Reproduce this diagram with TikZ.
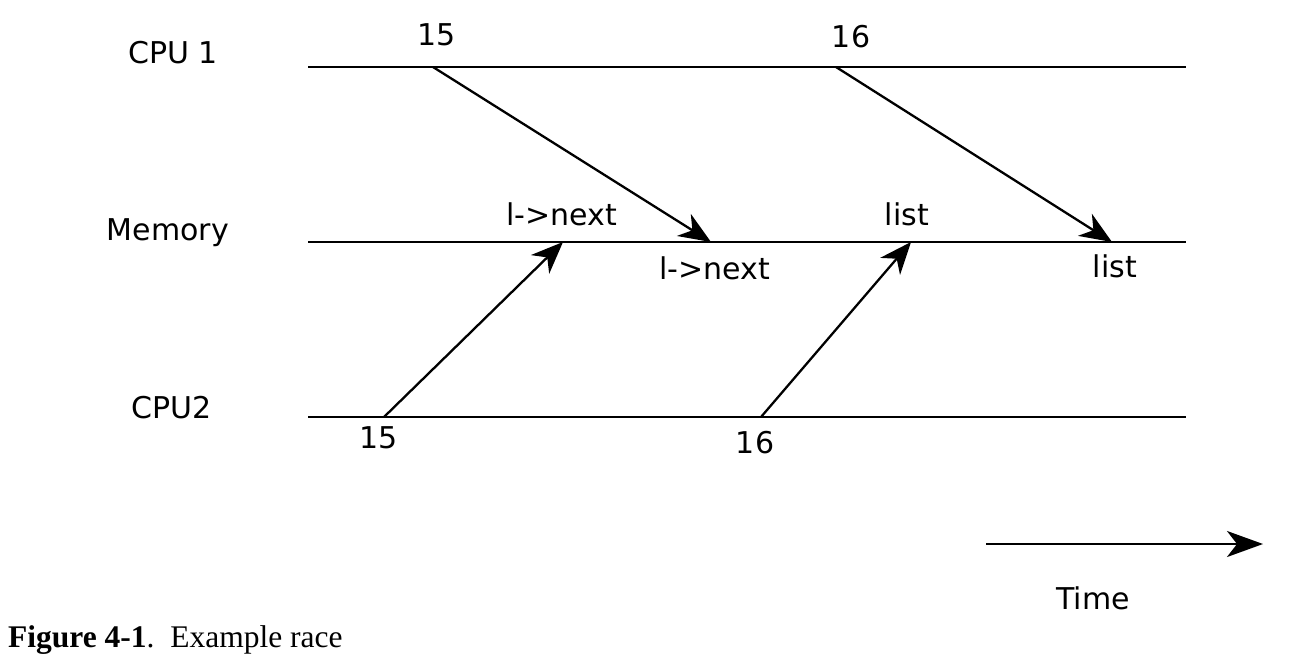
\documentclass[tikz,border=0pt]{standalone}
\usepackage{fontspec}
\setmainfont{Liberation Serif}
\newfontfamily\lblfont{DejaVu Sans}
\usetikzlibrary{arrows.meta}
\begin{document}
\begin{tikzpicture}[x=1pt,y=-1pt,
  lbl/.style={font=\lblfont\fontsize{30}{34}\selectfont, inner sep=0pt},
  tline/.style={line width=2.5pt},
  msg/.style={line width=2.3pt, -{Stealth[length=32pt,width=26pt,inset=10pt]}}]
\useasboundingbox (0,0) rectangle (1292,665);
% labels
\node[lbl] (c1) at (173,53) {CPU 1};
\node[lbl] (mem) at (168,233) {Memory};
\node[lbl] (c2) at (172,408) {CPU2};
% timelines
\coordinate (c1s) at (308,67); \coordinate (c1e) at (1186,67);
\coordinate (ms) at (308,242); \coordinate (me) at (1186,242);
\coordinate (c2s) at (308,417); \coordinate (c2e) at (1186,417);
\draw[tline] (c1s) -- (c1e);
\draw[tline] (ms) -- (me);
\draw[tline] (c2s) -- (c2e);
% event points
\coordinate (a1) at (433,67); \coordinate (b1) at (711,242);
\coordinate (a2) at (836,67); \coordinate (b2) at (1112,242);
\coordinate (a3) at (384,417); \coordinate (b3) at (563,242);
\coordinate (a4) at (761,417); \coordinate (b4) at (911,242);
\draw[msg] (a1) -- (b1);
\draw[msg] (a2) -- (b2);
\draw[msg] (a3) -- (b3);
\draw[msg] (a4) -- (b4);
% numbers
\node[lbl] (n1) at (437,35) {15};
\node[lbl] (n2) at (851,37) {16};
\node[lbl] (n3) at (379,438) {15};
\node[lbl] (n4) at (755,443) {16};
% memory labels
\node[lbl] (m1) at (562,214) {l->next};
\node[lbl] (m2) at (715,268) {l->next};
\node[lbl] (m3) at (907,214) {list};
\node[lbl] (m4) at (1115,266) {list};
% time arrow
\coordinate (ts) at (986,544); \coordinate (te) at (1263,544);
\draw[line width=2.5pt, -{Stealth[length=36pt,width=26pt,inset=10pt]}] (ts) -- (te);
\node[lbl] (time) at (1093,598) {Time};
% caption
\node[anchor=base west, inner sep=0pt, font=\fontsize{31.5}{36}\selectfont] (cap) at (8,647) {\textbf{Figure 4-1}.\ \ Example race};
\end{tikzpicture}
\end{document}
